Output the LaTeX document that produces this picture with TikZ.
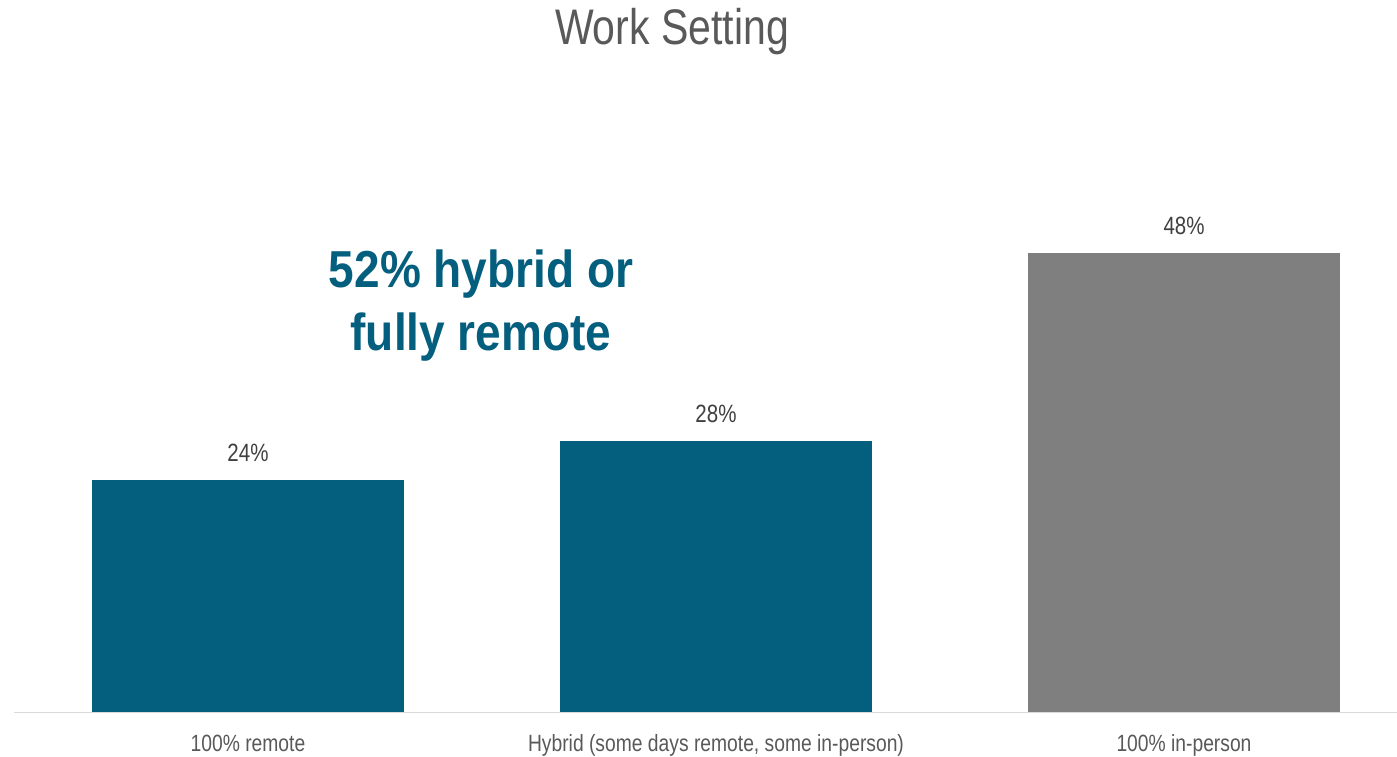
\documentclass[tikz,border=0pt]{standalone}
\usepackage{fontspec}
\setmainfont{Liberation Sans}[FakeStretch=0.82]
\newfontfamily\calloutfont{Liberation Sans}[FakeStretch=0.885]
\definecolor{barblue}{HTML}{045E7E}
\definecolor{bargray}{HTML}{7F7F7F}
\definecolor{txtgray}{HTML}{595959}
\definecolor{valgray}{HTML}{404040}
\definecolor{axisgray}{HTML}{D9D9D9}
\tikzset{
  bar/.style={inner sep=0pt, outer sep=0pt, draw=none, minimum width=312pt, anchor=south west},
  valuelbl/.style={anchor=base, inner sep=0pt, text=valgray, font=\fontsize{25}{30}\selectfont},
  catlbl/.style={anchor=base, inner sep=0pt, text=txtgray, font=\fontsize{23.5}{28}\selectfont},
  callout/.style={anchor=base, inner sep=0pt, text=barblue, font=\calloutfont\bfseries\fontsize{52}{62}\selectfont},
}
\begin{document}
\begin{tikzpicture}[x=1pt,y=-1pt]
\useasboundingbox[fill=white] (0,0) rectangle (1397,757);
% title
\node[anchor=base, inner sep=0pt, text=txtgray, font=\fontsize{50}{60}\selectfont] (title) at (672,45) {Work Setting};
% axis
\coordinate (axl) at (14,712.5);
\coordinate (axr) at (1397,712.5);
\draw[axisgray, line width=1.5pt] (axl) -- (axr);
% bars
\node[bar, fill=barblue, minimum height=232pt] (b1) at (92,711.5) {};
\node[bar, fill=barblue, minimum height=271pt] (b2) at (560,711.5) {};
\node[bar, fill=bargray, minimum height=459pt] (b3) at (1028,711.5) {};
% values
\node[valuelbl] (v1) at (248,461) {24\%};
\node[valuelbl] (v2) at (716,422) {28\%};
\node[valuelbl] (v3) at (1184,234) {48\%};
% categories
\node[catlbl] (c1) at (248,751) {100\% remote};
\node[catlbl] (c2) at (716,751) {Hybrid (some days remote, some in-person)};
\node[catlbl] (c3) at (1184,751) {100\% in-person};
% callout
\node[callout] (call1) at (481,287) {52\% hybrid or};
\node[callout] (call2) at (481,350) {fully remote};
\end{tikzpicture}
\end{document}
